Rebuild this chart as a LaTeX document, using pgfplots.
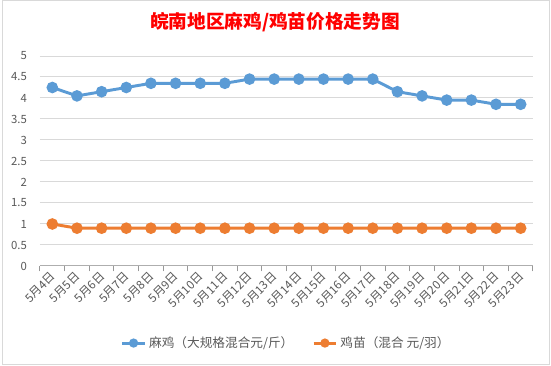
\documentclass[border=0pt]{standalone}
\usepackage{pgfplots}
\pgfplotsset{compat=1.18}
\usepackage{fontspec}
\setmainfont{Noto Sans CJK SC}
\definecolor{sblue}{HTML}{5B9BD5}
\definecolor{sorange}{HTML}{ED7D31}
\definecolor{gridc}{HTML}{D9D9D9}
\definecolor{labc}{HTML}{595959}
\begin{document}
\begin{tikzpicture}[x=0.75pt,y=0.75pt]
\useasboundingbox (0,0) rectangle (551,366);
\fill[white] (0,0) rectangle (551,366);
\draw[gridc, line width=0.75pt] (2,1) rectangle (549,365);
\node[text=red, font=\fontsize{14}{16}\selectfont\bfseries] at (275,344) {皖南地区麻鸡/鸡苗价格走势图};
\begin{axis}[
  at={(40pt*0.75,100pt*0.75)}, anchor=south west,
  scale only axis, width=369.75pt, height=157.5pt,
  xmin=-0.5, xmax=19.5, ymin=0, ymax=5,
  ytick={0,0.5,...,5},
  xtick={0,...,19},
  xticklabels={5月4日,5月5日,5月6日,5月7日,5月8日,5月9日,5月10日,5月11日,5月12日,5月13日,5月14日,5月15日,5月16日,5月17日,5月18日,5月19日,5月20日,5月21日,5月22日,5月23日},
  minor xtick={-0.5,0.5,...,19.5},
  major x tick style={draw=none},
  minor x tick style={draw=gridc!70!black, line width=0.75pt},
  minor tick length=4pt,
  tick align=outside,
  xtick pos=bottom, ytick pos=left,
  ytick style={draw=none},
  ymajorgrids, major grid style={gridc, line width=0.75pt},
  axis x line*=bottom, axis y line*=left,
  y axis line style={draw=none},
  x axis line style={gridc!80!black, line width=0.75pt, -},
  tick label style={text=labc, font=\fontsize{8.5}{10}\selectfont},
  yticklabel style={xshift=-2pt},
  xticklabel style={rotate=45, anchor=east, inner sep=1pt, yshift=-2pt, font=\fontsize{8.8}{10}\selectfont},
  /pgf/number format/assume math mode=true,
  legend style={at={(0.5,-0.367)}, anchor=center, draw=none, fill=none, legend columns=2, font=\fontsize{9.5}{11}\selectfont, text=labc, /tikz/every even column/.append style={column sep=12pt}},
  legend image code/.code={\draw[#1] (0cm,0cm) -- (0.6cm,0cm); \fill[#1] (0.3cm,0cm) circle (2.3pt);},
  clip=false,
]
\addplot[sblue, line width=2.2pt, mark=*, mark size=3.2pt, mark options={solid}] coordinates {
(0,4.25)(1,4.05)(2,4.15)(3,4.25)(4,4.35)(5,4.35)(6,4.35)(7,4.35)(8,4.45)(9,4.45)(10,4.45)(11,4.45)(12,4.45)(13,4.45)(14,4.15)(15,4.05)(16,3.95)(17,3.95)(18,3.85)(19,3.85)};
\addlegendentry{麻鸡（大规格混合元/斤）}
\addplot[sorange, line width=2.2pt, mark=*, mark size=3.2pt, mark options={solid}] coordinates {
(0,1.0)(1,0.9)(2,0.9)(3,0.9)(4,0.9)(5,0.9)(6,0.9)(7,0.9)(8,0.9)(9,0.9)(10,0.9)(11,0.9)(12,0.9)(13,0.9)(14,0.9)(15,0.9)(16,0.9)(17,0.9)(18,0.9)(19,0.9)};
\addlegendentry{鸡苗（混合 元/羽）}
\end{axis}
\end{tikzpicture}
\end{document}
